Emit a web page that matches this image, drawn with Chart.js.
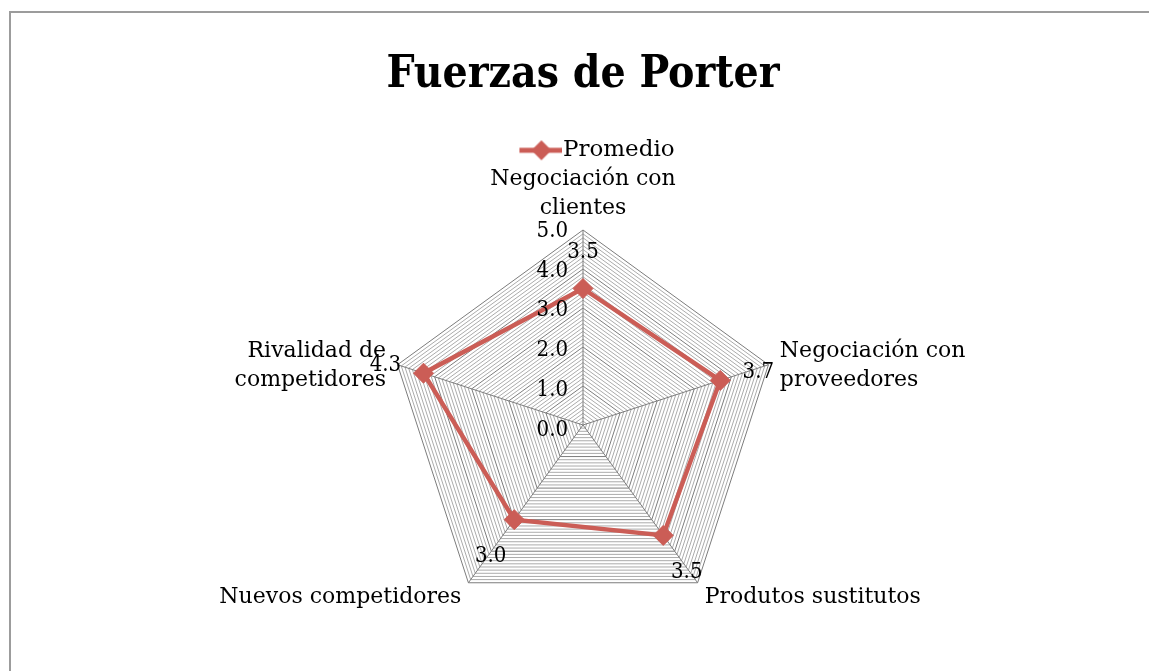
<!DOCTYPE html>
<html lang="es">
<head>
  <meta charset="UTF-8" />
  <title>Fuerzas de Porter</title>
  <script src="https://cdn.jsdelivr.net/npm/chart.js"></script>
  <style>
    html, body { margin: 0; padding: 0; background: #fff; overflow: hidden; }
    .frame {
      position: absolute; left: 9px; top: 11px;
      width: 1300px; height: 800px;
      border: 2px solid #9c9c9c;
    }
    #porterChart { position: absolute; left: 0; top: 0; }
  </style>
</head>
<body>
  <div class="frame"></div>
  <canvas id="porterChart" width="1149" height="671"></canvas>

  <script>
    // datos
    const categories = [
      ["Negociación con", "clientes"],
      ["Negociación con", "proveedores"],
      "Produtos sustitutos",
      "Nuevos competidores",
      ["Rivalidad de", "competidores"]
    ];
    const promedio = [3.5, 3.7, 3.5, 3.0, 4.3];
    const tickValues = [0, 1, 2, 3, 4, 5];
    const seriesName = "Promedio";

    // geometria del grafico radial
    const plotCenterX = 583;
    const plotCenterY = 425;
    const plotRadius = 195;

    const lineColor = "#cb5d56";
    const serif = "'DejaVu Serif', serif";
    const serifNarrow = "'DejaVu Serif Condensed', 'DejaVu Serif', serif";

    // icono de la leyenda: linea con rombo (a la derecha del lienzo)
    const legendIcon = document.createElement("canvas");
    legendIcon.width = 82;
    legendIcon.height = 22;
    (function () {
      const c = legendIcon.getContext("2d");
      c.strokeStyle = lineColor;
      c.lineWidth = 5;
      c.beginPath();
      c.moveTo(39, 11);
      c.lineTo(82, 11);
      c.stroke();
      c.fillStyle = lineColor;
      c.beginPath();
      c.moveTo(61, 1);
      c.lineTo(71, 11);
      c.lineTo(61, 21);
      c.lineTo(51, 11);
      c.closePath();
      c.fill();
    })();

    const isMajor = v => Math.abs(v - Math.round(v)) < 1e-6;

    // nombres de las categorias, alineados como en Excel
    const pointLabelPlugin = {
      id: "pointLabelsXL",
      afterDraw(chart) {
        const r = chart.scales.r;
        const ctx = chart.ctx;
        const lh = 29;
        ctx.save();
        ctx.font = "22px " + serif;
        ctx.fillStyle = "#000";
        ctx.textBaseline = "middle";
        chart.data.labels.forEach((label, i) => {
          const p = r.getPointPosition(i, r.drawingArea + 12);
          const dx = p.x - r.xCenter;
          const dy = p.y - r.yCenter;
          const lines = [].concat(label);
          ctx.textAlign = Math.abs(dx) < 1 ? "center" : (dx > 0 ? "left" : "right");
          let y0;
          if (Math.abs(dx) < 1 && dy < 0) {
            y0 = p.y - lines.length * lh + lh / 2;
          } else {
            y0 = p.y - (lines.length - 1) * lh / 2;
          }
          lines.forEach((t, k) => ctx.fillText(t, p.x, y0 + k * lh + 5));
        });
        ctx.restore();
      }
    };

    // etiquetas del eje (a la izquierda del eje vertical)
    const tickLabelPlugin = {
      id: "tickLabels",
      afterDraw(chart) {
        const r = chart.scales.r;
        const ctx = chart.ctx;
        ctx.save();
        ctx.font = "22px " + serifNarrow;
        ctx.fillStyle = "#000";
        ctx.textAlign = "right";
        ctx.textBaseline = "middle";
        tickValues.forEach(v => {
          const y = r.yCenter - r.getDistanceFromCenterForValue(v) * 1.02 + 5;
          ctx.fillText(v.toFixed(1), r.xCenter - 15, y);
        });
        ctx.restore();
      }
    };

    // etiquetas de datos
    const dataLabelPlugin = {
      id: "dataLabels",
      afterDatasetsDraw(chart) {
        const r = chart.scales.r;
        const ctx = chart.ctx;
        ctx.save();
        ctx.font = "22px " + serifNarrow;
        ctx.fillStyle = "#000";
        ctx.textAlign = "center";
        ctx.textBaseline = "middle";
        promedio.forEach((v, i) => {
          const p = r.getPointPosition(i, r.getDistanceFromCenterForValue(v) + 40);
          ctx.fillText(v.toFixed(1), p.x, p.y + 4);
        });
        ctx.restore();
      }
    };

    new Chart(document.getElementById("porterChart"), {
      type: "radar",
      data: {
        labels: categories,
        datasets: [{
          label: seriesName,
          data: promedio,
          borderColor: lineColor,
          backgroundColor: "rgba(0,0,0,0)",
          borderWidth: 4.5,
          pointStyle: "rectRot",
          pointRadius: 10,
          pointHoverRadius: 10,
          pointBackgroundColor: lineColor,
          pointBorderColor: lineColor,
          pointBorderWidth: 1
        }]
      },
      options: {
        responsive: false,
        animation: false,
        layout: { padding: { top: 0, bottom: 20, left: 17, right: 0 } },
        scales: {
          r: {
            min: 0,
            max: 5,
            ticks: { stepSize: 0.1, display: false },
            grid: {
              color: ctx => isMajor(ctx.tick.value) ? "#7c7c7c" : "#ababab",
              lineWidth: 1
            },
            angleLines: { color: "#7c7c7c", lineWidth: 1 },
            pointLabels: { display: false },
            afterFit(scale) {
              scale.xCenter = plotCenterX;
              scale.yCenter = plotCenterY;
              scale.drawingArea = plotRadius;
            }
          }
        },
        plugins: {
          title: {
            display: true,
            text: "Fuerzas de Porter",
            color: "#000",
            font: { size: 44, weight: "bold", family: serifNarrow, lineHeight: 1.2 },
            padding: { top: 49, bottom: 31 }
          },
          legend: {
            display: true,
            position: "top",
            labels: {
              color: "#000",
              font: { size: 23, family: serif },
              usePointStyle: true,
              pointStyleWidth: 60,
              padding: 6,
              generateLabels: chart => chart.data.datasets.map((ds, i) => ({
                text: ds.label,
                pointStyle: legendIcon,
                fillStyle: lineColor,
                strokeStyle: lineColor,
                lineWidth: 0,
                datasetIndex: i
              }))
            }
          },
          tooltip: { enabled: false }
        }
      },
      plugins: [dataLabelPlugin, tickLabelPlugin, pointLabelPlugin]
    });
  </script>
</body>
</html>
